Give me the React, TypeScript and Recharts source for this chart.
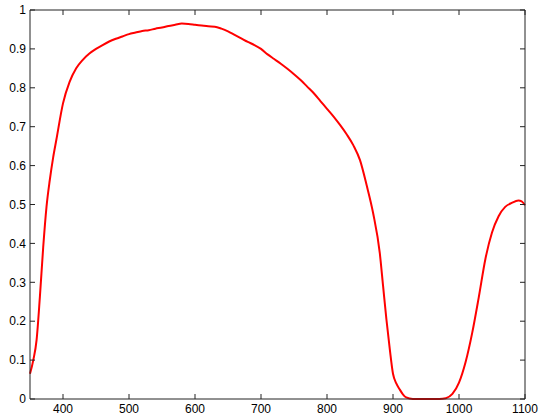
import { LineChart, Line, XAxis, YAxis } from 'recharts';

const wavelengths = [
  350, 355, 360, 365, 370, 375, 380, 385, 390, 400, 410, 420, 430, 440, 450, 460, 470, 480, 490,
  500, 510, 520, 530, 540, 550, 560, 570, 580, 590, 600, 610, 620, 630, 640, 650, 660, 670, 680,
  690, 700, 710, 720, 730, 740, 750, 760, 770, 780, 790, 800, 810, 820, 830, 840, 850, 860, 870,
  880, 885, 890, 895, 900, 905, 910, 915, 920, 930, 940, 950, 960, 970, 980, 990, 1000, 1010,
  1020, 1030, 1040, 1050, 1060, 1070, 1080, 1090, 1095, 1100,
];
const response = [
  0.065, 0.1, 0.152, 0.263, 0.39, 0.494, 0.563, 0.62, 0.667, 0.76, 0.815, 0.85, 0.872, 0.888,
  0.9, 0.91, 0.919, 0.926, 0.932, 0.938, 0.942, 0.946, 0.948, 0.952, 0.955, 0.959, 0.962, 0.965,
  0.964, 0.962, 0.96, 0.958, 0.957, 0.952, 0.945, 0.936, 0.927, 0.918, 0.91, 0.9, 0.886, 0.874,
  0.862, 0.849, 0.835, 0.82, 0.803, 0.786, 0.766, 0.746, 0.726, 0.704, 0.68, 0.652, 0.614, 0.55,
  0.477, 0.375, 0.29, 0.205, 0.13, 0.065, 0.04, 0.025, 0.012, 0.004, 0, 0, 0, 0, 0, 0.002, 0.013,
  0.042, 0.095, 0.17, 0.262, 0.36, 0.428, 0.47, 0.494, 0.504, 0.51, 0.508, 0.498,
];
const xTicks = [400, 500, 600, 700, 800, 900, 1000, 1100];
const yTicks = [0, 0.1, 0.2, 0.3, 0.4, 0.5, 0.6, 0.7, 0.8, 0.9, 1];

const data = wavelengths.map((w, i) => ({ w, v: response[i] }));

const FONT = '"Liberation Sans", Arial, Helvetica, sans-serif';
const TICK = 5;

function BottomTick({ x, y, payload }: any) {
  return (
    <g>
      <line x1={x} y1={y} x2={x} y2={y - TICK} stroke="#222" />
      <text x={x} y={y + 5} dy="0.71em" textAnchor="middle" fontSize={12} fontFamily={FONT} fill="#000">
        {payload.value}
      </text>
    </g>
  );
}

function TopTick({ x, y }: any) {
  return <line x1={x} y1={y} x2={x} y2={y + TICK} stroke="#222" />;
}

function LeftTick({ x, y, payload }: any) {
  return (
    <g>
      <line x1={x} y1={y} x2={x + TICK} y2={y} stroke="#222" />
      <text x={x - 4} y={y} dy="0.35em" textAnchor="end" fontSize={12} fontFamily={FONT} fill="#000">
        {payload.value}
      </text>
    </g>
  );
}

function RightTick({ x, y }: any) {
  return <line x1={x} y1={y} x2={x - TICK} y2={y} stroke="#222" />;
}

export default function App() {
  return (
    <div style={{ position: 'absolute', left: 0, top: 0, background: '#fff' }}>
      <LineChart width={539} height={419} data={data} margin={{ top: 9, right: 13, bottom: 0, left: 0 }}>
        <XAxis
          dataKey="w"
          type="number"
          domain={[350, 1100]}
          ticks={xTicks}
          interval={0}
          height={20}
          tickSize={0}
          tickMargin={0}
          tickLine={false}
          axisLine={{ stroke: '#222' }}
          tick={<BottomTick />}
        />
        <XAxis
          xAxisId="top"
          orientation="top"
          dataKey="w"
          type="number"
          domain={[350, 1100]}
          ticks={xTicks}
          interval={0}
          height={1}
          tickSize={0}
          tickMargin={0}
          tickLine={false}
          axisLine={{ stroke: '#222' }}
          tick={<TopTick />}
        />
        <YAxis
          type="number"
          domain={[0, 1]}
          ticks={yTicks}
          interval={0}
          width={30}
          tickSize={0}
          tickMargin={0}
          tickLine={false}
          axisLine={{ stroke: '#222' }}
          tick={<LeftTick />}
        />
        <YAxis
          yAxisId="right"
          orientation="right"
          type="number"
          domain={[0, 1]}
          ticks={yTicks}
          interval={0}
          width={1}
          tickSize={0}
          tickMargin={0}
          tickLine={false}
          axisLine={{ stroke: '#222' }}
          tick={<RightTick />}
        />
        {/* invisible copy so the mirrored top/right axes get drawn */}
        <Line
          xAxisId="top"
          yAxisId="right"
          dataKey="v"
          stroke="none"
          dot={false}
          activeDot={false}
          isAnimationActive={false}
        />
        <Line
          dataKey="v"
          type="monotone"
          stroke="#ff0000"
          strokeWidth={2}
          dot={false}
          isAnimationActive={false}
        />
      </LineChart>
    </div>
  );
}
